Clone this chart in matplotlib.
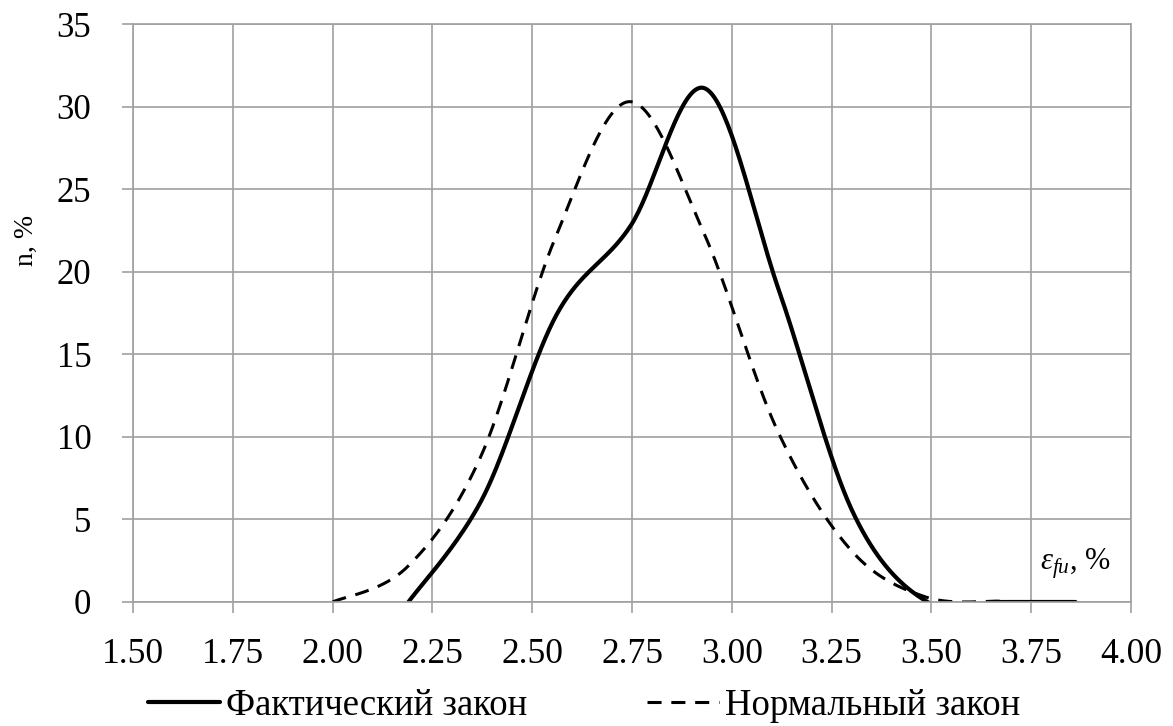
import matplotlib
matplotlib.use("Agg")
import matplotlib.pyplot as plt
import numpy as np

# Data: points of the two distribution curves
x_fact = [2.19, 2.376, 2.561, 2.747, 2.933, 3.119, 3.304, 3.49, 3.676, 3.861]
n_fact = [0.0, 6.3, 17.4, 22.8, 31.1, 18.8, 5.4, 0.0, 0.0, 0.0]

x_norm = [2.0, 2.186, 2.371, 2.557, 2.743, 2.929, 3.114, 3.3, 3.486, 3.671]
n_norm = [0.0, 2.1, 8.8, 22.0, 30.3, 22.4, 10.4, 3.1, 0.3, 0.05]

x_ticks = [1.50, 1.75, 2.00, 2.25, 2.50, 2.75, 3.00, 3.25, 3.50, 3.75, 4.00]
y_ticks = [0, 5, 10, 15, 20, 25, 30, 35]

label_fact = "Фактический закон"
label_norm = "Нормальный закон"


def smooth(xs, ys, steps=40):
    # Excel-like smoothed line: cubic Bezier through the points (Catmull-Rom tangents)
    pts = np.column_stack([xs, ys]).astype(float)
    n = len(pts)
    t = np.linspace(0, 1, steps)[:, None]
    segs = []
    for i in range(n - 1):
        p0 = pts[i - 1] if i > 0 else pts[i]
        p1 = pts[i]
        p2 = pts[i + 1]
        p3 = pts[i + 2] if i + 2 < n else pts[i + 1]
        c1 = p1 + (p2 - p0) / 6.0
        c2 = p2 - (p3 - p1) / 6.0
        seg = (1 - t) ** 3 * p1 + 3 * (1 - t) ** 2 * t * c1 + 3 * (1 - t) * t ** 2 * c2 + t ** 3 * p2
        segs.append(seg if i == 0 else seg[1:])
    out = np.vstack(segs)
    return out[:, 0], out[:, 1]


plt.rcParams["font.family"] = ["Liberation Serif", "DejaVu Serif"]
plt.rcParams["mathtext.fontset"] = "custom"
plt.rcParams["mathtext.rm"] = "Liberation Serif"
plt.rcParams["mathtext.it"] = "Liberation Serif:italic"

fig = plt.figure(figsize=(11.73, 7.26), dpi=100)
ax = fig.add_axes([0.1134, 0.1708, 0.8508, 0.7961])

grid_col = "#a0a0a0"

xs, ys = smooth(x_fact, n_fact)
ax.plot(xs, ys, color="black", lw=3.0, solid_capstyle="round", label=label_fact)
xs, ys = smooth(x_norm, n_norm)
ax.plot(xs, ys, color="black", lw=2.2, linestyle=(0, (4.6, 3.2)), label=label_norm)

ax.set_xlim(1.5, 4.0)
ax.set_ylim(0, 35)
ax.set_xticks(x_ticks)
ax.set_xticklabels(["%.2f" % v for v in x_ticks])
ax.set_yticks(y_ticks)
ax.grid(True, color=grid_col, lw=1.2)
ax.set_axisbelow(True)
for s in ax.spines.values():
    s.set_color(grid_col)
    s.set_linewidth(1.2)
ax.tick_params(axis="both", direction="out", length=8, width=1.2, color=grid_col,
               labelcolor="black")
ax.tick_params(axis="y", pad=22, labelsize=25)
ax.tick_params(axis="x", pad=18, labelsize=25.5)

ax.set_ylabel("n, %", fontsize=20)
ax.yaxis.set_label_coords(-0.094, 0.626)

ax.text(3.86, 2.3, r"$\varepsilon_{fu}$, %", fontsize=22, ha="center", va="center")

fig.legend(loc="center", bbox_to_anchor=(0.498, 0.028), ncol=2, frameon=False,
           fontsize=26.5, handlelength=1.96, handletextpad=0.16, columnspacing=3.26,
           borderaxespad=0)

fig.savefig("out.png", dpi=100)
